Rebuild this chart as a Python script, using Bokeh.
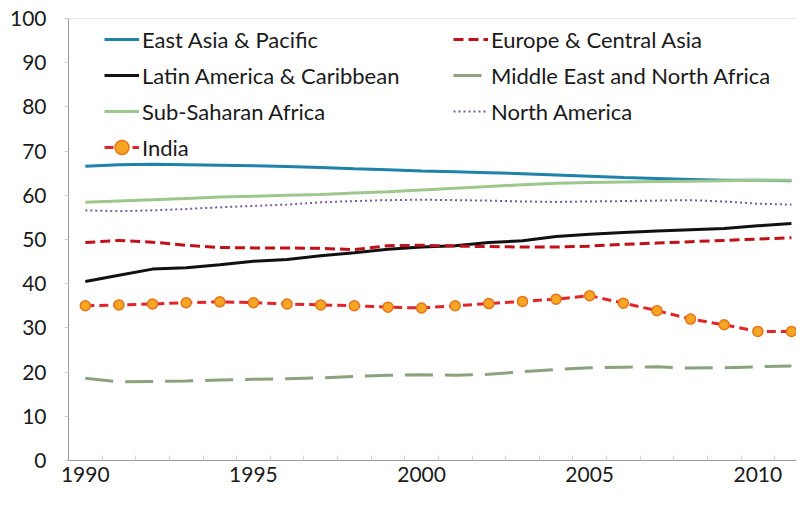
from bokeh.plotting import figure
from bokeh.models import FixedTicker, Legend, LegendItem, Span, Range1d
from bokeh.embed import file_html
from bokeh.resources import INLINE

years = list(range(1990, 2012))
east_asia = [66.6, 66.9, 67.0, 66.9, 66.8, 66.7, 66.5, 66.3, 66.0, 65.8, 65.5,
             65.3, 65.1, 64.9, 64.6, 64.3, 64.0, 63.8, 63.6, 63.4, 63.4, 63.3]
europe = [49.3, 49.8, 49.4, 48.7, 48.2, 48.1, 48.1, 48.0, 47.7, 48.6, 48.7,
          48.5, 48.4, 48.3, 48.3, 48.5, 48.9, 49.2, 49.5, 49.8, 50.1, 50.4]
latin = [40.5, 41.9, 43.3, 43.6, 44.3, 45.1, 45.5, 46.3, 47.0, 47.8, 48.3,
         48.6, 49.3, 49.7, 50.7, 51.2, 51.6, 51.9, 52.2, 52.5, 53.1, 53.6]
mena = [18.6, 17.8, 17.9, 18.0, 18.2, 18.4, 18.5, 18.7, 19.0, 19.3, 19.4,
        19.3, 19.5, 20.1, 20.6, 21.0, 21.1, 21.2, 20.9, 21.0, 21.2, 21.4]
ssa = [58.4, 58.7, 59.0, 59.3, 59.6, 59.8, 60.0, 60.2, 60.5, 60.8, 61.2,
       61.6, 62.0, 62.4, 62.7, 62.9, 63.0, 63.1, 63.2, 63.3, 63.4, 63.4]
north_am = [56.6, 56.4, 56.6, 56.9, 57.3, 57.6, 57.9, 58.4, 58.7, 58.9, 59.0,
            58.9, 58.8, 58.6, 58.5, 58.6, 58.7, 58.8, 58.9, 58.6, 58.1, 57.9]
india = [35.0, 35.2, 35.4, 35.7, 35.9, 35.7, 35.4, 35.2, 35.0, 34.7, 34.5,
         35.0, 35.5, 36.0, 36.5, 37.3, 35.6, 33.9, 32.0, 30.7, 29.2, 29.2]

x_labels = [1990, 1995, 2000, 2005, 2010]
y_ticks = list(range(0, 101, 10))

FONT = "Lato"

p = figure(width=796, height=492, output_backend="svg", toolbar_location=None,
           x_range=Range1d(1989.5, 2011.15), y_range=Range1d(0, 100),
           min_border_left=68, min_border_right=0, min_border_top=18,
           min_border_bottom=32)
p.xgrid.visible = False
p.ygrid.visible = False
p.outline_line_color = None
p.background_fill_color = "white"

p.add_layout(Span(location=100, dimension="width", line_color="#d0d0d0", line_width=1))

r_ea = p.line(years, east_asia, line_color="#1F82A8", line_width=3)
r_lac = p.line(years, latin, line_color="#111111", line_width=3)
r_ssa = p.line(years, ssa, line_color="#9DC88D", line_width=3)
r_eca = p.line(years, europe, line_color="#C0101A", line_width=3, line_dash="10 5")
r_mena = p.line(years, mena, line_color="#8AA37C", line_width=3, line_dash="28 12")
r_na = p.line(years, north_am, line_color="#7A5C9E", line_width=2, line_dash="2 3")
r_in_l = p.line(years, india, line_color="#E0262B", line_width=3, line_dash="9 5")
r_in_m = p.scatter(years, india, size=10, fill_color="#F5A623", line_color="#E8731A", line_width=1.5)

xa = p.xaxis[0]
xa.ticker = FixedTicker(ticks=x_labels, minor_ticks=[y + 0.5 for y in years])
xa.major_tick_in = 0
xa.major_tick_out = 0
xa.minor_tick_in = 5
xa.minor_tick_out = 0
xa.minor_tick_line_color = "#d0d0d0"
xa.axis_line_color = "#9a9a9a"
xa.major_label_text_font = FONT
xa.major_label_text_font_size = "21px"
xa.major_label_text_color = "#1a1a1a"
xa.major_label_standoff = 6

ya = p.yaxis[0]
ya.ticker = FixedTicker(ticks=y_ticks)
ya.major_tick_in = 0
ya.major_tick_out = 4
ya.major_tick_line_color = "#d0d0d0"
ya.minor_tick_line_color = None
ya.axis_line_color = "#9a9a9a"
ya.major_label_text_font = FONT
ya.major_label_text_font_size = "21px"
ya.major_label_text_color = "#1a1a1a"
ya.major_label_standoff = 18


def make_legend(items, loc):
    lg = Legend(items=items, location=loc, orientation="vertical",
                padding=0, margin=0, spacing=0, glyph_width=35, glyph_height=36,
                label_height=36, label_standoff=3,
                label_text_font=FONT, label_text_font_size="22px",
                label_text_color="#1a1a1a",
                background_fill_alpha=0, border_line_alpha=0)
    return lg


leg1 = make_legend([
    LegendItem(label="East Asia & Pacific", renderers=[r_ea]),
    LegendItem(label="Latin America & Caribbean", renderers=[r_lac]),
    LegendItem(label="Sub-Saharan Africa", renderers=[r_ssa]),
    LegendItem(label="India", renderers=[r_in_l, r_in_m]),
], (36, 295))
leg2 = make_legend([
    LegendItem(label="Europe & Central Asia", renderers=[r_eca]),
    LegendItem(label="Middle East and North Africa", renderers=[r_mena]),
    LegendItem(label="North America", renderers=[r_na]),
], (385, 331))
p.add_layout(leg1, "center")
p.add_layout(leg2, "center")

open("out.html", "w").write(file_html(p, INLINE))
